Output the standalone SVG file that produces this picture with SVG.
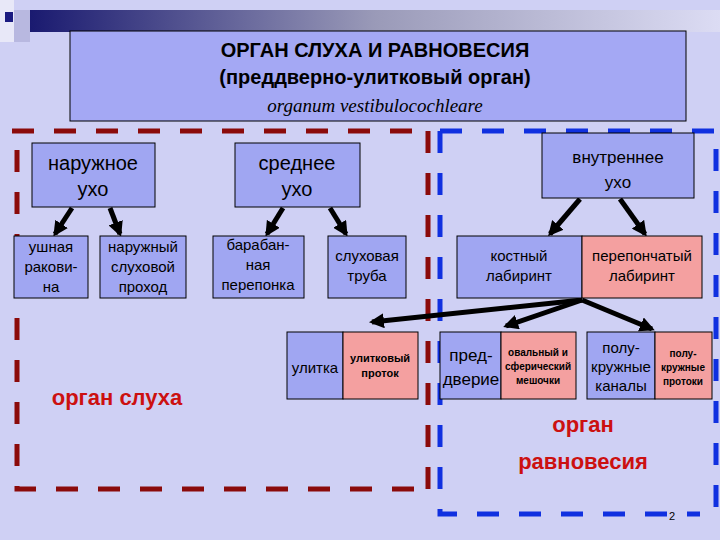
<svg xmlns="http://www.w3.org/2000/svg" width="720" height="540" viewBox="0 0 720 540">
<defs>
<linearGradient id="g" x1="0" x2="1"><stop offset="0" stop-color="#1a1a70"/><stop offset="0.5" stop-color="#9a9ab8"/><stop offset="1" stop-color="#dcdcf4"/></linearGradient>
<marker id="ah" viewBox="0 0 10 10" refX="8" refY="5" markerWidth="3" markerHeight="3" orient="auto"><path d="M0,0 L10,5 L0,10 z" fill="#000"/></marker>
<style>
.n{fill:#a0a6f2;stroke:#000;stroke-width:1}
.p{fill:#f4a0a0;stroke:#000;stroke-width:1}
text{font-family:"Liberation Sans",Arial,sans-serif;text-anchor:middle;fill:#000}
.l{font-size:20px}
.m{font-size:15px}
.b{font-size:17px}
.s{font-size:11px;font-weight:bold}
.t{font-size:10px;font-weight:bold}
.rd{stroke:#8b0a0a;stroke-width:5;stroke-dasharray:22,20;fill:none}
.bd{stroke:#1030e0;stroke-width:5;stroke-dasharray:22,20;fill:none}
.a{stroke:#000;stroke-width:5;fill:none;marker-end:url(#ah)}
.red{fill:#cc1010;font-size:22px;font-weight:bold}
</style>
</defs>
<rect width="720" height="540" fill="#cfd0f4"/>
<rect x="30" y="10" width="690" height="22" fill="url(#g)"/>
<rect x="0" y="0" width="14" height="42" fill="#e8e8f8"/>
<rect x="14" y="10" width="16" height="32" fill="#b8b8e0"/>
<rect x="5" y="12" width="8" height="10" fill="#1a1a80"/>
<g id="title">
<rect x="70" y="31" width="616" height="90" fill="#a4a8f4" stroke="#000"/>
<text x="375" y="57" font-size="20" font-weight="bold">ОРГАН СЛУХА И РАВНОВЕСИЯ</text>
<text x="375" y="84" font-size="20" font-weight="bold">(преддверно-улитковый орган)</text>
<text x="375" y="112" font-size="19" font-style="italic" style="font-family:'Liberation Serif',serif">organum vestibulocochleare</text>
</g>
<g id="frames">
<path class="rd" d="M12,131 H428 M17,150 V489 H428 M428,131 V489"/>
<path class="bd" d="M440,131 H716 V514 M440,131 V514 H700"/>
</g>
<g id="connectors">
<line class="a" x1="72" y1="208" x2="55" y2="234"/>
<line class="a" x1="110" y1="208" x2="120" y2="234"/>
<line class="a" x1="283" y1="208" x2="267" y2="234"/>
<line class="a" x1="330" y1="208" x2="346" y2="234"/>
<line class="a" x1="580" y1="199" x2="550" y2="234"/>
<line class="a" x1="620" y1="199" x2="645" y2="234"/>
<line class="a" x1="582" y1="300" x2="372" y2="322"/>
<line class="a" x1="582" y1="300" x2="506" y2="326"/>
<line class="a" x1="582" y1="300" x2="652" y2="329"/>
</g>
<g id="naruzhnoe"><rect class="n" x="32" y="143" width="123" height="64"/><text class="l" x="93" y="170">наружное</text><text class="l" x="93" y="196">ухо</text></g>
<g id="srednee"><rect class="n" x="235" y="143" width="125" height="64"/><text class="l" x="297" y="170">среднее</text><text class="l" x="297" y="196">ухо</text></g>
<g id="vnutrennee"><rect class="n" x="542" y="133" width="152" height="65"/><text class="b" x="618" y="163">внутреннее</text><text class="b" x="618" y="188">ухо</text></g>
<g id="ushnaya"><rect class="n" x="14" y="236" width="74" height="62"/><text class="m" x="51" y="252">ушная</text><text class="m" x="51" y="272">ракови-</text><text class="m" x="51" y="292">на</text></g>
<g id="prokhod"><rect class="n" x="100" y="236" width="86" height="62"/><text class="m" x="143" y="252">наружный</text><text class="m" x="143" y="272">слуховой</text><text class="m" x="143" y="292">проход</text></g>
<g id="pereponka"><rect class="n" x="213" y="236" width="91" height="62"/><text class="m" x="258" y="250">барабан-</text><text class="m" x="258" y="270">ная</text><text class="m" x="258" y="290">перепонка</text></g>
<g id="truba"><rect class="n" x="328" y="236" width="78" height="62"/><text class="m" x="367" y="261">слуховая</text><text class="m" x="367" y="281">труба</text></g>
<g id="kostny"><rect class="n" x="457" y="236" width="125" height="62"/><text class="m" x="519" y="261">костный</text><text class="m" x="519" y="281">лабиринт</text></g>
<g id="pereponchaty"><rect class="p" x="582" y="236" width="120" height="62"/><text class="m" x="642" y="261">перепончатый</text><text class="m" x="642" y="281">лабиринт</text></g>
<g id="ulitka"><rect class="n" x="287" y="332" width="56" height="67"/><text class="m" x="315" y="373">улитка</text></g>
<g id="ulit-protok"><rect class="p" x="343" y="332" width="75" height="67"/><text class="s" x="380" y="362">улитковый</text><text class="s" x="380" y="377">проток</text></g>
<g id="preddverie"><rect class="n" x="440" y="332" width="61" height="67"/><text class="b" x="471" y="361">пред-</text><text class="b" x="471" y="385">дверие</text></g>
<g id="meshochki"><rect class="p" x="501" y="332" width="75" height="67"/><text class="t" x="538" y="356">овальный и</text><text class="t" x="538" y="370">сферический</text><text class="t" x="538" y="384">мешочки</text></g>
<g id="kanaly"><rect class="n" x="587" y="332" width="68" height="67"/><text class="m" x="621" y="353">полу-</text><text class="m" x="621" y="372">кружные</text><text class="m" x="621" y="391">каналы</text></g>
<g id="protoki"><rect class="p" x="655" y="332" width="57" height="67"/><text class="t" x="683" y="357">полу-</text><text class="t" x="683" y="371">кружные</text><text class="t" x="683" y="385">протоки</text></g>
<text class="red" x="117" y="405">орган слуха</text>
<text class="red" x="583" y="432">орган</text>
<text class="red" x="583" y="469">равновесия</text>
<text x="672" y="520" font-size="11" fill="#202060">2</text>
</svg>
